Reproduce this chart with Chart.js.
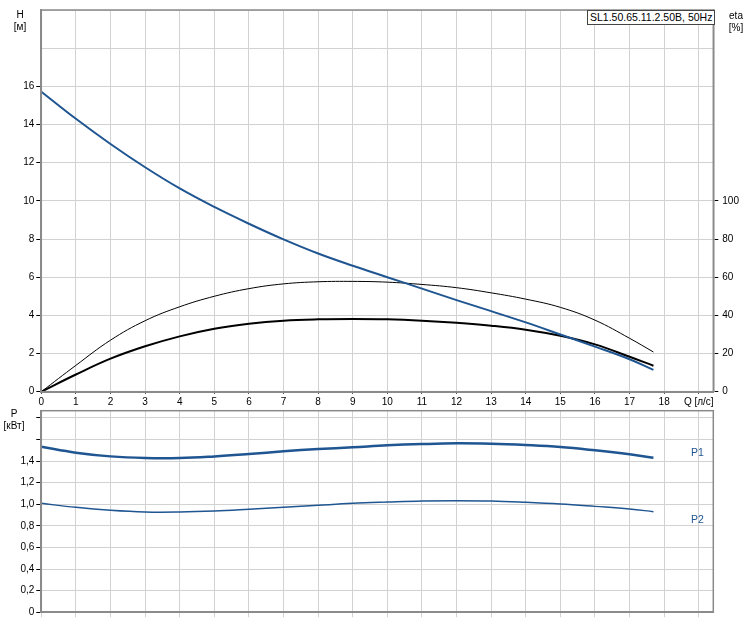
<!DOCTYPE html>
<html>
<head>
<meta charset="utf-8">
<script src="https://cdn.jsdelivr.net/npm/chart.js@4.4.1/dist/chart.umd.min.js"></script>
<style>
  body { margin: 0; background: #fff; font-family: "Liberation Sans", Arial, sans-serif; }
  #wrap { position: relative; width: 750px; height: 624px; overflow: hidden; }
  canvas { position: absolute; left: 0; }
  .txt { position: absolute; font-size: 10px; line-height: 11.5px; color: #000; text-align: center; white-space: nowrap; }
  #model { position: absolute; left: 587px; top: 10px; width: 124px; height: 13px; border: 1px solid #444;
           background: #fff; font-size: 10.5px; line-height: 13px; padding-left: 2px; white-space: nowrap; }
  .plbl { position: absolute; font-size: 10.5px; line-height: 12px; color: #1f5591; }
</style>
</head>
<body>
<div id="wrap">
  <canvas id="top" width="750" height="408" style="top:0"></canvas>
  <canvas id="bottom" width="750" height="222" style="top:402px"></canvas>
  <div class="txt" style="left:8px;top:9px;width:24px">H<br>[м]</div>
  <div class="txt" style="left:724px;top:10px;width:24px">eta<br>[%]</div>
  <div class="txt" style="left:0px;top:408px;width:28px">P<br>[кВт]</div>
  <div id="model">SL1.50.65.11.2.50B, 50Hz</div>
  <div class="plbl" style="left:691px;top:446px">P1</div>
  <div class="plbl" style="left:691px;top:513px">P2</div>
</div>
<script>
// flow Q [l/s]
const flow = [0, 1, 2, 3, 4, 5, 6, 7, 8, 9, 10, 11, 12, 13, 14, 15, 16, 17, 17.69];
// head H [m]
const head = [15.72, 14.3, 12.98, 11.76, 10.65, 9.68, 8.8, 7.98, 7.24, 6.6, 6.0, 5.4, 4.8, 4.22, 3.63, 3.0, 2.36, 1.7, 1.14];
// efficiencies [%]
const etaPump = [0, 13.8, 27.0, 37.2, 44.5, 50, 54, 56.5, 57.6, 57.8, 57.4, 56.2, 54.5, 51.8, 48.5, 44.2, 37.5, 28, 20.8];
const etaTotal = [0, 9.0, 17.3, 23.8, 29.0, 33.0, 35.6, 37.2, 37.9, 38.1, 37.9, 37.2, 36.1, 34.6, 32.5, 29.3, 24.8, 18.3, 13.6];
// power [kW]
const p1 = [1.532, 1.477, 1.443, 1.428, 1.428, 1.443, 1.465, 1.49, 1.511, 1.527, 1.545, 1.557, 1.564, 1.56, 1.548, 1.53, 1.499, 1.462, 1.43];
const p2 = [1.008, 0.971, 0.944, 0.928, 0.928, 0.937, 0.953, 0.971, 0.99, 1.008, 1.02, 1.03, 1.033, 1.03, 1.018, 1.002, 0.98, 0.956, 0.931];

// tick labels
const qTitle = 'Q [л/с]';
const hLabels = ['0', '2', '4', '6', '8', '10', '12', '14', '16'];
const etaLabels = ['0', '20', '40', '60', '80', '100'];
const pLabels = ['0', '0,2', '0,4', '0,6', '0,8', '1,0', '1,2', '1,4'];

const Q_MAX = 19.42;
const FONT = { family: '"Liberation Sans", Arial, sans-serif', size: 10 };
const GRID = '#d2d2d2';
const AXIS = '#8a8a8a';
const BLUE = '#1f5591';

Chart.defaults.font = FONT;
Chart.defaults.color = '#000';

const pts = (ys) => ys.map((y, i) => ({ x: flow[i], y: y }));

const frame = {
  id: 'frame',
  afterDraw(chart) {
    const { ctx, chartArea: a } = chart;
    ctx.save();
    ctx.strokeStyle = AXIS;
    ctx.lineWidth = 1.5;
    ctx.strokeRect(a.left, a.top, a.right - a.left, a.bottom - a.top);
    ctx.restore();
  }
};

const line = (data, color, width, axis) => ({
  data: pts(data), yAxisID: axis, borderColor: color, borderWidth: width,
  pointRadius: 0, fill: false, tension: 0.4
});

const labelTick = (labels) => (ctx) => (ctx.index < labels.length ? '#000' : 'rgba(0,0,0,0)');

new Chart(document.getElementById('top'), {
  type: 'line',
  data: {
    datasets: [
      line(head, BLUE, 2, 'y'),
      line(etaPump, '#000', 1, 'y2'),
      line(etaTotal, '#000', 2, 'y2')
    ]
  },
  options: {
    responsive: false, animation: false, devicePixelRatio: 1,
    layout: { padding: { top: 10, left: 0, right: 0, bottom: 0 } },
    plugins: { legend: { display: false }, tooltip: { enabled: false } },
    scales: {
      x: {
        type: 'linear', min: 0, max: Q_MAX,
        ticks: { stepSize: 1, includeBounds: false, padding: 3, maxRotation: 0, autoSkip: false,
                 callback: (v) => (v === 19 ? qTitle : String(v)) },
        grid: { color: GRID, tickLength: 2, tickColor: '#000' },
        border: { color: AXIS, width: 2 },
        afterFit: (s) => { s.height = 16.3; }
      },
      y: {
        position: 'left', min: 0, max: 20,
        ticks: { stepSize: 2, includeBounds: false, padding: 2,
                 callback: (v, i) => (hLabels[i] !== undefined ? hLabels[i] : '') },
        grid: { color: GRID, tickLength: 5, tickColor: labelTick(hLabels) },
        border: { color: AXIS, width: 2 },
        afterFit: (s) => { s.width = 41.3; }
      },
      y2: {
        position: 'right', min: 0, max: 200,
        ticks: { stepSize: 20, includeBounds: false, padding: 4,
                 callback: (v, i) => (etaLabels[i] !== undefined ? etaLabels[i] : '') },
        grid: { drawOnChartArea: false, tickLength: 5, tickColor: labelTick(etaLabels) },
        border: { color: AXIS, width: 1.5 },
        afterFit: (s) => { s.width = 36.7; }
      }
    }
  },
  plugins: [frame]
});

new Chart(document.getElementById('bottom'), {
  type: 'line',
  data: {
    datasets: [
      line(p1, BLUE, 2.5, 'y'),
      line(p2, BLUE, 1.5, 'y')
    ]
  },
  options: {
    responsive: false, animation: false, devicePixelRatio: 1,
    layout: { padding: { top: 8.7, left: 0, right: 36.7, bottom: 0 } },
    plugins: { legend: { display: false }, tooltip: { enabled: false } },
    scales: {
      x: {
        type: 'linear', min: 0, max: Q_MAX,
        ticks: { display: false, stepSize: 1, includeBounds: false },
        grid: { color: GRID, tickLength: 5, tickColor: GRID },
        border: { color: AXIS, width: 1.5 },
        afterFit: (s) => { s.height = 11.8; }
      },
      y: {
        position: 'left', min: 0, max: 1.866,
        ticks: { stepSize: 0.2, includeBounds: false, padding: 2,
                 callback: (v, i) => (pLabels[i] !== undefined ? pLabels[i] : '') },
        grid: { color: GRID, tickLength: 5, tickColor: '#000' },
        border: { color: AXIS, width: 2 },
        afterFit: (s) => { s.width = 41.3; }
      }
    }
  },
  plugins: [frame]
});
</script>
</body>
</html>
